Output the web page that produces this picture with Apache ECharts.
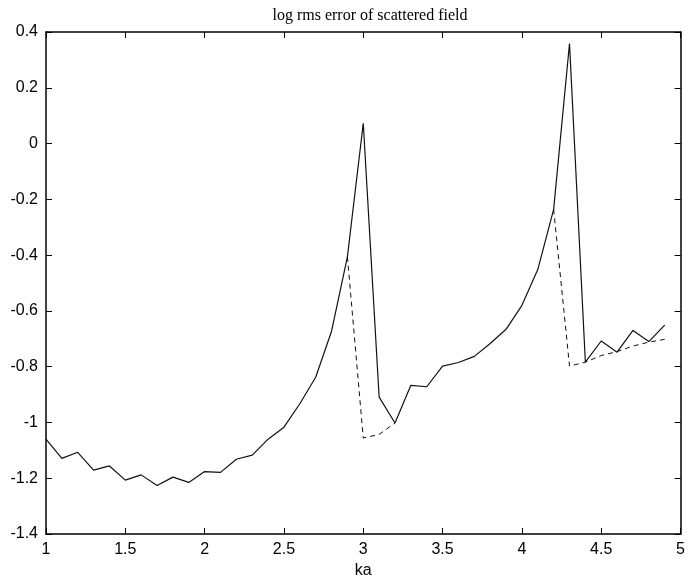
<!DOCTYPE html>
<html>
<head>
<meta charset="utf-8">
<script src="https://cdn.jsdelivr.net/npm/echarts@6/dist/echarts.min.js"></script>
<style>
html,body{margin:0;padding:0;background:#fff;}
#chart{width:688px;height:584px;}
</style>
</head>
<body>
<div id="chart"></div>
<script>
// ka values (x axis)
var kaValues = [1.0,1.1,1.2,1.3,1.4,1.5,1.6,1.7,1.8,1.9,
                2.0,2.1,2.2,2.3,2.4,2.5,2.6,2.7,2.8,2.9,
                3.0,3.1,3.2,3.3,3.4,3.5,3.6,3.7,3.8,3.9,
                4.0,4.1,4.2,4.3,4.4,4.5,4.6,4.7,4.8,4.9];
// solid curve: log rms error
var solidValues = [-1.060,-1.129,-1.107,-1.171,-1.156,-1.207,-1.188,-1.226,-1.196,-1.215,
                   -1.176,-1.179,-1.132,-1.117,-1.060,-1.017,-0.933,-0.838,-0.673,-0.406,
                    0.073,-0.909,-1.002,-0.867,-0.872,-0.798,-0.785,-0.763,-0.717,-0.666,
                   -0.580,-0.452,-0.236, 0.359,-0.784,-0.708,-0.748,-0.670,-0.710,-0.651];
// dashed curve (only where it departs from the solid one)
var dashedValues = [null,null,null,null,null,null,null,null,null,null,
                    null,null,null,null,null,null,null,null,null,-0.406,
                    -1.056,-1.043,-1.002,null,null,null,null,null,null,null,
                    null,null,-0.236,-0.798,-0.784,-0.760,-0.746,-0.726,-0.712,-0.702];
var xTicks = {min: 1, max: 5, interval: 0.5};
var yTicks = {min: -1.4, max: 0.4, interval: 0.2};
var titleText = 'log rms error of scattered field';
var xName = 'ka';

function pairs(xs, ys){
  var out = [];
  for (var i = 0; i < xs.length; i++) out.push([xs[i], ys[i] === null ? null : ys[i]]);
  return out;
}
function fmt(v){ var r = Math.round(v*10)/10; return (r === 0 ? '0' : String(r)); }

var axisLine = {show: true, onZero: false, lineStyle: {color: '#000', width: 1.5}};
var tick = {show: true, inside: true, length: 6, lineStyle: {color: '#000', width: 1}};
var labelFont = {color: '#000', fontSize: 16, fontFamily: 'Liberation Sans, Arial, sans-serif'};

var chart = echarts.init(document.getElementById('chart'), null, {renderer: 'canvas'});
chart.setOption({
  animation: false,
  backgroundColor: '#fff',
  title: {
    text: titleText,
    left: 365, textAlign: 'center', top: 3,
    textStyle: {fontFamily: 'Liberation Serif, Times New Roman, serif', fontWeight: 'normal', fontSize: 16, color: '#000'}
  },
  grid: {left: 46, right: 5, top: 32, bottom: 50, containLabel: false},
  xAxis: [
    {type: 'value', position: 'bottom', min: xTicks.min, max: xTicks.max, interval: xTicks.interval,
     axisLine: axisLine, axisTick: tick, splitLine: {show: false},
     axisLabel: Object.assign({margin: 8, formatter: function(v){return fmt(v);}}, labelFont),
     name: xName, nameLocation: 'middle', nameGap: 29,
     nameTextStyle: {color: '#000', fontSize: 16, fontFamily: 'Liberation Sans, Arial, sans-serif'}},
    {type: 'value', position: 'top', min: xTicks.min, max: xTicks.max, interval: xTicks.interval,
     axisLine: axisLine, axisTick: tick, splitLine: {show: false}, axisLabel: {show: false}}
  ],
  yAxis: [
    {type: 'value', position: 'left', min: yTicks.min, max: yTicks.max, interval: yTicks.interval,
     axisLine: axisLine, axisTick: tick, splitLine: {show: false},
     axisLabel: Object.assign({margin: 8, formatter: function(v){return fmt(v);}}, labelFont)},
    {type: 'value', position: 'right', min: yTicks.min, max: yTicks.max, interval: yTicks.interval,
     axisLine: axisLine, axisTick: tick, splitLine: {show: false}, axisLabel: {show: false}}
  ],
  series: [
    {type: 'line', xAxisIndex: 0, yAxisIndex: 0, data: pairs(kaValues, solidValues),
     showSymbol: false, symbol: 'none', lineStyle: {color: '#111', width: 1.2}, z: 3},
    {type: 'line', xAxisIndex: 0, yAxisIndex: 0, data: pairs(kaValues, dashedValues),
     showSymbol: false, symbol: 'none', connectNulls: false,
     lineStyle: {color: '#111', width: 1, type: [5, 4]}, z: 2}
  ]
});
</script>
</body>
</html>
